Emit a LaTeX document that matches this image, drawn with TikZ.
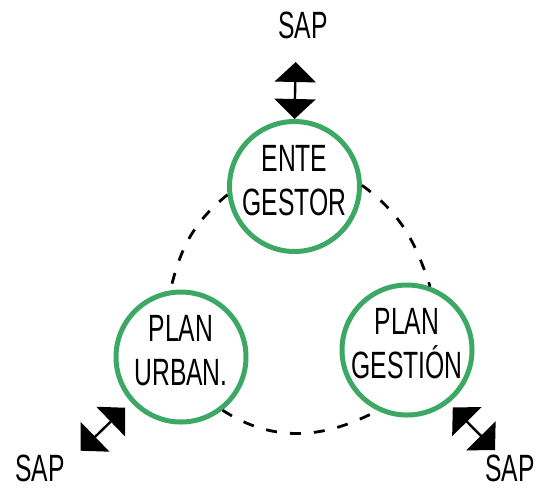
\documentclass[tikz,border=0pt]{standalone}
\usepackage{fontspec}
\usepackage{xcolor}
\usetikzlibrary{arrows.meta}
\newfontfamily\narrowsans[FakeStretch=0.65]{Liberation Sans}
\definecolor{ringgreen}{RGB}{60,168,100}

\begin{document}
\begin{tikzpicture}[
  x=1pt, y=1pt,
  ring/.style={draw=ringgreen, circle, line width=5pt, minimum size=130pt, inner sep=0pt},
  ringtext/.style={align=center, inner sep=0pt, yshift=6pt, font=\narrowsans\fontsize{38}{44}\selectfont},
  sap/.style={inner sep=0pt, text height=27pt, text depth=0pt, font=\narrowsans\fontsize{38}{44}\selectfont},
  link/.style={dashed, dash pattern=on 11pt off 13pt, line width=2.8pt},
  biarrow/.style={line width=2.4pt, {Triangle[width=41pt,length=20pt]}-{Triangle[width=41pt,length=20pt]}}
]
\useasboundingbox (0,0) rectangle (537,-491);

\node[ring] (ente) at (294.5,-186.5) {};
\node[ring] (urban) at (181,-357) {};
\node[ring] (gestion) at (407,-350) {};
\node[ringtext] at (ente) {ENTE\\GESTOR};
\node[ringtext] at (urban) {PLAN\\URBAN.};
\node[ringtext] at (gestion) {PLAN\\GESTIÓN};

\node[sap, anchor=base] (sapn) at (303,-38) {SAP};
\node[sap, anchor=base] (sapsw) at (40,-481) {SAP};
\node[sap, anchor=base east] (sapse) at (535,-481) {SAP};

\coordinate (tipn) at (295.7,-62);
\coordinate (tipsw) at (80.7,-450.7);
\coordinate (tipse) at (495,-450);

\draw[link] (ente.187) to[out=219, in=77] (urban.99);
\draw[link] (ente.1) to[out=-36, in=108] (gestion.70);
\draw[link] (urban.-52) to[out=-33, in=208] (gestion.-116);

\draw[biarrow] (ente.north) -- (tipn);
\draw[biarrow, shorten <=8pt] (urban.222) -- (tipsw);
\draw[biarrow, shorten <=6pt] (gestion.-52) -- (tipse);
\end{tikzpicture}
\end{document}
